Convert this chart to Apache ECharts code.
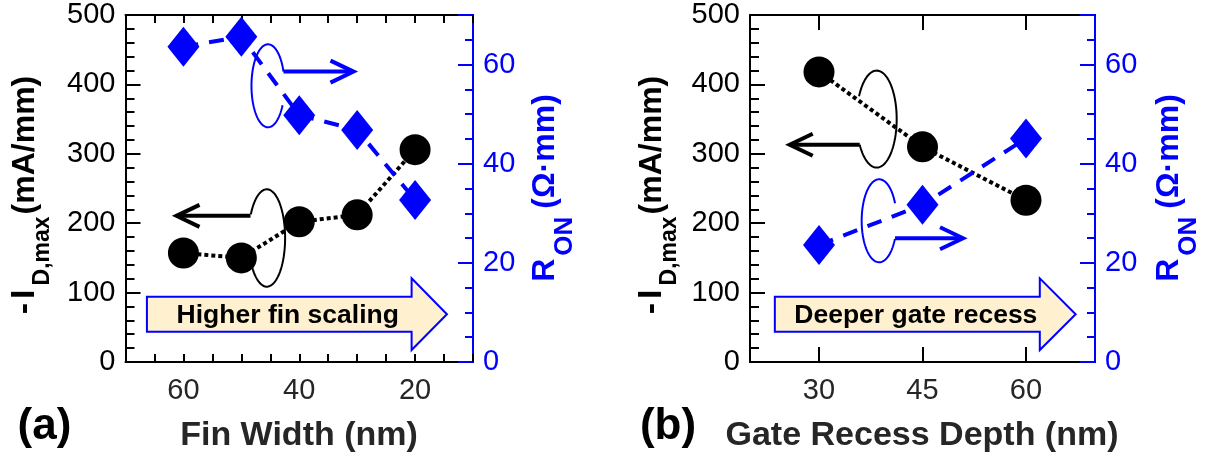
<!DOCTYPE html>
<html>
<head>
<meta charset="utf-8">
<script src="https://cdn.jsdelivr.net/npm/echarts@6/dist/echarts.min.js"></script>
<style>
  html, body { margin: 0; padding: 0; background: #fff; }
  #chart { width: 1211px; height: 457px; }
</style>
</head>
<body>
<div id="chart"></div>
<script>
// ---- data ----
const finWidth = [60, 50, 40, 30, 20];            // nm
const idMaxFin = [157, 150, 202, 212, 306];       // mA/mm
const ronFin = [63.6, 65.6, 49.8, 46.8, 32.7];    // ohm*mm

const recessDepth = [30, 45, 60];                 // nm
const idMaxRecess = [418, 310, 233];              // mA/mm
const ronRecess = [23.6, 31.7, 45.1];             // ohm*mm

const finTickLabels = [60, 40, 20];
const recessTickLabels = [30, 45, 60];
const ronTickLabels = [0, 20, 40, 60];

// ---- style ----
const FONT = '"Liberation Sans", Arial, Helvetica, sans-serif';
const BLUE = '#0000ff';
const DARK = '#262626';
const BEIGE = '#fff0cf';

const chart = echarts.init(document.getElementById('chart'), null, { renderer: 'canvas' });

function idAxis(grid) {
  return {
    type: 'value', gridIndex: grid, position: 'left', min: 0, max: 500, interval: 100,
    axisLine: { show: true, lineStyle: { color: '#000', width: 2 } },
    axisTick: { show: true, inside: true, length: 15, lineStyle: { color: '#000', width: 2 } },
    minorTick: { show: true, splitNumber: 5, length: 9, lineStyle: { color: '#000', width: 2 } },
    axisLabel: { color: '#000', fontSize: 29, fontFamily: FONT, margin: 10 },
    splitLine: { show: false }
  };
}
function ronAxis(grid) {
  return {
    type: 'value', gridIndex: grid, position: 'right', min: 0, max: 70, interval: 20,
    axisLine: { show: true, lineStyle: { color: BLUE, width: 2 } },
    axisTick: { show: true, inside: true, length: 15, lineStyle: { color: BLUE, width: 2 } },
    axisLabel: {
      color: BLUE, fontSize: 29, fontFamily: FONT, margin: 10,
      formatter: v => (ronTickLabels.includes(v) ? String(v) : '')
    },
    splitLine: { show: false }
  };
}
function ronMinorAxis(grid) {
  return {
    type: 'value', gridIndex: grid, position: 'right', min: 0, max: 70, interval: 5,
    axisLine: { show: true, lineStyle: { color: BLUE, width: 2 } },
    axisTick: { show: true, inside: true, length: 8, lineStyle: { color: BLUE, width: 2 } },
    axisLabel: { show: false },
    splitLine: { show: false }
  };
}
function finAxis(pos, labels) {
  return {
    type: 'value', gridIndex: 0, position: pos, inverse: true, min: 10, max: 70, interval: 5,
    axisLine: { show: true, onZero: false, lineStyle: { color: '#000', width: 2 } },
    axisTick: { show: true, inside: true, length: 8, lineStyle: { color: '#000', width: 2 } },
    axisLabel: {
      show: labels, color: DARK, fontSize: 29, fontFamily: FONT, margin: 14,
      formatter: v => (finTickLabels.includes(v) ? String(v) : '')
    },
    splitLine: { show: false }
  };
}
function recessAxis(pos, labels) {
  return {
    type: 'value', gridIndex: 1, position: pos, min: 20, max: 70,
    axisLine: { show: true, onZero: false, lineStyle: { color: '#000', width: 2 } },
    axisTick: { show: true, inside: true, length: 15, customValues: recessTickLabels,
      lineStyle: { color: '#000', width: 2 } },
    axisLabel: { show: labels, customValues: recessTickLabels, color: DARK, fontSize: 29,
      fontFamily: FONT, margin: 14 },
    splitLine: { show: false }
  };
}

function pairs(xs, ys) { return xs.map((x, i) => [x, ys[i]]); }

const circleSeries = (xi, yi, xs, ys) => ({
  type: 'line', xAxisIndex: xi, yAxisIndex: yi, data: pairs(xs, ys),
  symbol: 'circle', symbolSize: 31, itemStyle: { color: '#000' },
  lineStyle: { color: '#000', width: 4, type: [4, 3] }, z: 3
});
const diamondSeries = (xi, yi, xs, ys) => ({
  type: 'line', xAxisIndex: xi, yAxisIndex: yi, data: pairs(xs, ys),
  symbol: 'diamond', symbolSize: [32, 40], itemStyle: { color: BLUE },
  lineStyle: { color: BLUE, width: 4, type: [15, 11] }, z: 4
});

const option = {
  animation: false,
  backgroundColor: '#fff',
  grid: [
    { left: 125.5, top: 15, width: 347.5, height: 347 },
    { left: 750, top: 15, width: 345, height: 347 }
  ],
  xAxis: [finAxis('bottom', true), finAxis('top', false), recessAxis('bottom', true), recessAxis('top', false)],
  yAxis: [idAxis(0), ronAxis(0), ronMinorAxis(0), idAxis(1), ronAxis(1), ronMinorAxis(1)],
  series: [
    circleSeries(0, 0, finWidth, idMaxFin),
    diamondSeries(0, 1, finWidth, ronFin),
    circleSeries(2, 3, recessDepth, idMaxRecess),
    diamondSeries(2, 4, recessDepth, ronRecess)
  ]
};
chart.setOption(option);

// ---- annotations: axis-pointing ellipses with arrows, and block arrows ----
const finders = [{ xAxisIndex: 0, yAxisIndex: 0 }, { xAxisIndex: 2, yAxisIndex: 3 }];
const toPx = (g, x, y) => chart.convertToPixel(finders[g], [x, y]);

// ellipse centre in (x, I_D) units, radii in px, gap between angles (deg), arrow leaves at gap edge
const loops = [
  { g: 0, x: 45.4, y: 398, rx: 16.5, ry: 41.5, gap: [-27, 20], at: 20, dir: 1, len: 70, color: BLUE },
  { g: 0, x: 45.6, y: 178.7, rx: 18.3, ry: 48.7, gap: [153, 205], at: 153, dir: -1, len: 74, color: '#000' },
  { g: 1, x: 38.36, y: 350, rx: 20, ry: 48.5, gap: [152, 212], at: 212, dir: -1, len: 70, color: '#000' },
  { g: 1, x: 38.72, y: 203.5, rx: 17.5, ry: 41.5, gap: [-25, 25], at: -25, dir: 1, len: 68, color: BLUE }
];

const graphics = [];
loops.forEach(L => {
  const [cx, cy] = toPx(L.g, L.x, L.y);
  const pts = [];
  const a0 = L.gap[1], a1 = L.gap[0] + 360;
  for (let a = a0; a <= a1 + 0.01; a += 3) {
    const t = a * Math.PI / 180;
    pts.push([cx + L.rx * Math.cos(t), cy - L.ry * Math.sin(t)]);
  }
  graphics.push({ type: 'polyline', shape: { points: pts }, style: { stroke: L.color, lineWidth: 2, fill: null }, z: 1 });
  const t = L.at * Math.PI / 180;
  const sx = cx + L.rx * Math.cos(t), sy = cy - L.ry * Math.sin(t);
  const tx = sx + L.dir * L.len;
  graphics.push({ type: 'polyline', shape: { points: [[sx, sy], [tx - L.dir * 2, sy]] },
    style: { stroke: L.color, lineWidth: 4, fill: null }, z: 1 });
  graphics.push({ type: 'polyline',
    shape: { points: [[tx - L.dir * 23, sy - 11], [tx, sy], [tx - L.dir * 23, sy + 11]] },
    style: { stroke: L.color, lineWidth: 4, fill: null, lineJoin: 'miter' }, z: 1 });
});

// block arrows in (x, I_D) units
const blocks = [
  { g: 0, x0: 66.3, x1: 20.6, tip: 14.5, text: 'Higher fin scaling' },
  { g: 1, x0: 23.6, x1: 62.0, tip: 67.2, text: 'Deeper gate recess' }
];
blocks.forEach(B => {
  const [px0, yTop] = toPx(B.g, B.x0, 94.1);
  const [px1, yBot] = toPx(B.g, B.x1, 43.7);
  const [ptip, yMid] = toPx(B.g, B.tip, 68.7);
  const hTop = toPx(B.g, B.x1, 120.6)[1];
  const hBot = toPx(B.g, B.x1, 17.3)[1];
  graphics.push({ type: 'polygon',
    shape: { points: [[px0, yTop], [px1, yTop], [px1, hTop], [ptip, yMid], [px1, hBot], [px1, yBot], [px0, yBot]] },
    style: { fill: BEIGE, stroke: BLUE, lineWidth: 2 }, z: 1 });
  graphics.push({ type: 'text', x: (px0 + px1) / 2 + 8.5, y: yMid + 1, z: 2,
    style: { text: B.text, fontSize: 26.5, fontWeight: 'bold', fontFamily: FONT, fill: '#000',
      align: 'center', verticalAlign: 'middle' } });
});

// rotated axis titles with subscripts (subscript pushed down by top padding)
function tok(size, color, padding) {
  const s = { fontSize: size, fontWeight: 'bold', fontFamily: FONT, fill: color };
  if (padding) s.padding = padding;
  return s;
}
function yTitle(x, y, isRon) {
  const c = isRon ? BLUE : '#000';
  const rich = isRon
    ? { r: tok(32, c), s: tok(26, c, [40, 8, 0, 3]), m: tok(32, c) }
    : { a: tok(34, c, [0, 4, 0, 0]), b: tok(34, c, [0, 4, 0, 0]), s: tok(23, c, [36, 2, 0, 0]), m: tok(32, c) };
  return {
    type: 'text', x: x, y: y, rotation: Math.PI / 2, z: 5,
    style: {
      text: isRon ? '{r|R}{s|ON}{m|(Ω·mm)}' : '{a|-}{b|I}{s|D,max}{m|(mA/mm)}',
      rich: rich, fill: c, align: 'center', verticalAlign: 'middle'
    }
  };
}
graphics.push(yTitle(25, 195, false), yTitle(545, 188, true), yTitle(652, 195, false), yTitle(1169, 188, true));

function xTitle(x, y, text) {
  return { type: 'text', x: x, y: y, z: 5,
    style: { text: text, fontSize: 34, fontWeight: 'bold', fontFamily: FONT, fill: DARK,
      align: 'center', verticalAlign: 'middle' } };
}
graphics.push(xTitle(299, 436, 'Fin Width (nm)'), xTitle(922, 436, 'Gate Recess Depth (nm)'));

function panelTag(x, y, text) {
  return { type: 'text', x: x, y: y, z: 5,
    style: { text: text, fontSize: 44, fontWeight: 'bold', fontFamily: FONT, fill: '#000',
      align: 'center', verticalAlign: 'middle' } };
}
graphics.push(panelTag(44.5, 427, '(a)'), panelTag(668, 427, '(b)'));

chart.setOption({ graphic: graphics });
</script>
</body>
</html>
